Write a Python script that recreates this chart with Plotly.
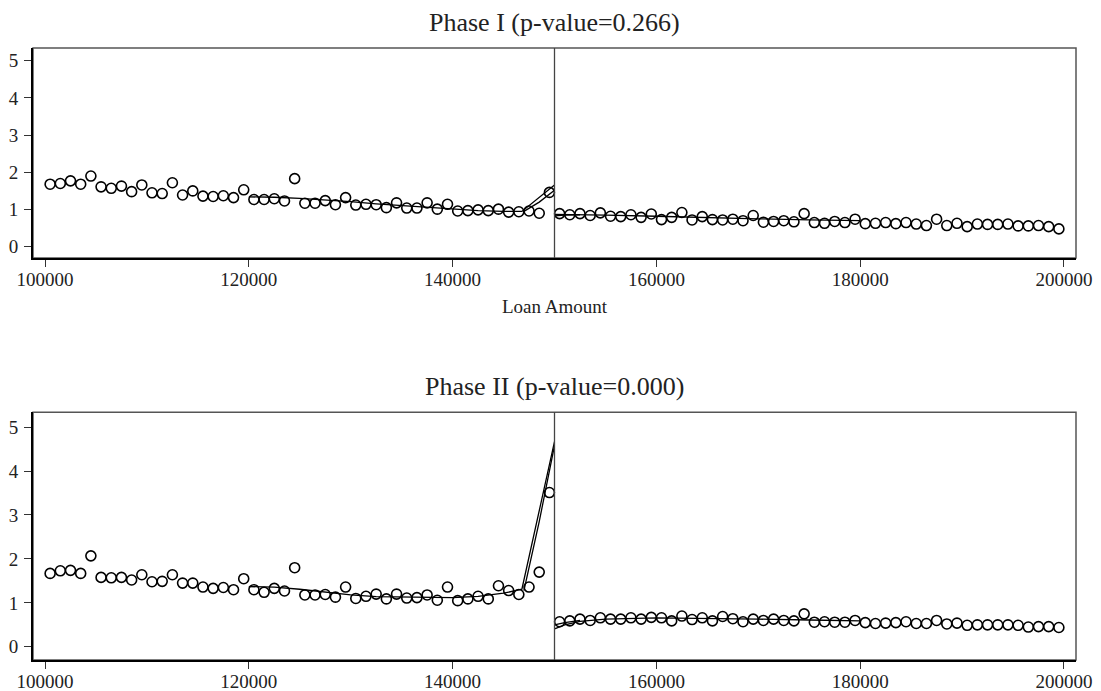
import plotly.graph_objects as go
from plotly.subplots import make_subplots

# bin centres (1000-wide bins of loan amount)
loan_bins = [100500 + 1000 * i for i in range(100)]

phase1_means = [
    1.68, 1.70, 1.77, 1.68, 1.90, 1.61, 1.57, 1.63, 1.48, 1.66,
    1.45, 1.43, 1.72, 1.39, 1.50, 1.36, 1.35, 1.37, 1.32, 1.53,
    1.27, 1.27, 1.29, 1.23, 1.83, 1.17, 1.17, 1.24, 1.13, 1.32,
    1.12, 1.14, 1.13, 1.05, 1.18, 1.04, 1.04, 1.18, 1.01, 1.14,
    0.96, 0.97, 0.99, 0.97, 1.01, 0.93, 0.94, 0.96, 0.90, 1.46,
    0.89, 0.86, 0.89, 0.84, 0.91, 0.82, 0.81, 0.86, 0.79, 0.88,
    0.73, 0.79, 0.92, 0.72, 0.81, 0.73, 0.72, 0.74, 0.70, 0.84,
    0.66, 0.68, 0.70, 0.67, 0.89, 0.65, 0.63, 0.68, 0.65, 0.74,
    0.62, 0.63, 0.65, 0.62, 0.65, 0.61, 0.57, 0.74, 0.57, 0.63,
    0.54, 0.61, 0.60, 0.60, 0.61, 0.56, 0.56, 0.57, 0.54, 0.48,
]

phase2_means = [
    1.67, 1.73, 1.74, 1.67, 2.07, 1.58, 1.57, 1.58, 1.52, 1.64,
    1.48, 1.49, 1.64, 1.45, 1.45, 1.36, 1.33, 1.35, 1.30, 1.55,
    1.30, 1.24, 1.33, 1.27, 1.80, 1.18, 1.18, 1.19, 1.13, 1.36,
    1.10, 1.15, 1.20, 1.09, 1.20, 1.11, 1.12, 1.18, 1.06, 1.36,
    1.05, 1.09, 1.15, 1.09, 1.39, 1.28, 1.19, 1.36, 1.70, 3.51,
    0.57, 0.59, 0.63, 0.60, 0.66, 0.63, 0.63, 0.66, 0.63, 0.67,
    0.66, 0.59, 0.70, 0.62, 0.66, 0.59, 0.69, 0.64, 0.57, 0.63,
    0.60, 0.63, 0.60, 0.59, 0.75, 0.56, 0.57, 0.56, 0.56, 0.60,
    0.55, 0.53, 0.54, 0.55, 0.57, 0.53, 0.53, 0.60, 0.52, 0.54,
    0.49, 0.50, 0.50, 0.50, 0.50, 0.49, 0.45, 0.46, 0.46, 0.44,
]

# local fits, left of the cutoff
fit_left_x = [120000, 122500, 125000, 127500, 130000, 132500, 135000,
              137500, 140000, 142500, 145000, 146800, 150000]
fit1_left_y = [1.34, 1.33, 1.30, 1.26, 1.21, 1.15, 1.10,
               1.05, 1.00, 0.97, 0.95, 0.95, 1.66]
fit2_left_y = [1.37, 1.36, 1.31, 1.24, 1.18, 1.14, 1.13,
               1.12, 1.12, 1.15, 1.22, 1.31, 4.67]
# second (alternative) fit near the cutoff
alt_left_x = [147000, 148500, 150000]
alt1_left_y = [0.95, 1.20, 1.52]
alt2_left_y = [1.28, 2.85, 4.58]

# local fits, right of the cutoff
fit_right_x = [150000, 151000, 152500, 155000, 160000, 165000, 170000, 175000, 180000]
fit1_right_y = [0.87, 0.87, 0.86, 0.85, 0.82, 0.78, 0.75, 0.72, 0.70]
fit2_right_y = [0.41, 0.50, 0.58, 0.63, 0.66, 0.65, 0.63, 0.61, 0.59]
alt_right_x = [150000, 151000, 152500]
alt1_right_y = [0.83, 0.85, 0.86]
alt2_right_y = [0.50, 0.55, 0.60]

cutoff = 150000
x_ticks = [100000, 120000, 140000, 160000, 180000, 200000]
y_ticks = [0, 1, 2, 3, 4, 5]

FONT = "Liberation Serif, Times New Roman, serif"

fig = make_subplots(rows=2, cols=1, vertical_spacing=0.1)

panels = [
    (1, phase1_means, fit1_left_y, alt1_left_y, fit1_right_y, alt1_right_y),
    (2, phase2_means, fit2_left_y, alt2_left_y, fit2_right_y, alt2_right_y),
]
for row, means, fl, al, fr, ar in panels:
    line = dict(color="black", width=1.3)
    fig.add_trace(go.Scatter(x=fit_left_x, y=fl, mode="lines", line=line), row=row, col=1)
    fig.add_trace(go.Scatter(x=alt_left_x, y=al, mode="lines", line=line), row=row, col=1)
    fig.add_trace(go.Scatter(x=fit_right_x, y=fr, mode="lines", line=line), row=row, col=1)
    fig.add_trace(go.Scatter(x=alt_right_x, y=ar, mode="lines", line=line), row=row, col=1)
    fig.add_trace(
        go.Scatter(
            x=loan_bins, y=means, mode="markers",
            marker=dict(symbol="circle-open", size=10, color="black",
                        line=dict(color="black", width=1.6)),
        ),
        row=row, col=1,
    )

axis_common = dict(
    showline=True, linecolor="black", linewidth=2,
    ticks="outside", ticklen=7, tickwidth=1, tickcolor="#333",
    showgrid=False, zeroline=False, automargin=False,
    tickfont=dict(family=FONT, size=19, color="#222"),
)
fig.update_xaxes(range=[98820, 201180], tickvals=x_ticks, tickformat="d",
                 ticklabelstandoff=-4, **axis_common)
fig.update_yaxes(range=[-0.3, 5.34], tickvals=y_ticks, ticklabelstandoff=2, **axis_common)
fig.update_xaxes(title=dict(text="Loan Amount", font=dict(family=FONT, size=19, color="#222"),
                            standoff=11), row=1, col=1)

fig.update_layout(
    yaxis=dict(domain=[0.657, 1.0]),
    yaxis2=dict(domain=[0.0, 0.405]),
    xaxis=dict(anchor="y"),
    xaxis2=dict(anchor="y2"),
)

shapes = []
for xr, yr in [("x", "y"), ("x2", "y2")]:
    shapes.append(dict(type="rect", xref=f"{xr} domain", yref=f"{yr} domain",
                       x0=0, x1=1, y0=0, y1=1, layer="below",
                       line=dict(color="#555", width=1.5)))
    shapes.append(dict(type="line", xref=xr, yref=f"{yr} domain",
                       x0=cutoff, x1=cutoff, y0=0, y1=1,
                       line=dict(color="#444", width=1.3)))

fig.update_layout(
    shapes=shapes,
    showlegend=False,
    plot_bgcolor="white",
    paper_bgcolor="white",
    width=1101,
    height=691,
    margin=dict(t=48, b=31, l=33, r=25),
    annotations=[
        dict(text="Phase I (p-value=0.266)", xref="paper", yref="paper",
             x=0.5, y=1.0, yanchor="middle", yshift=26, showarrow=False,
             font=dict(family=FONT, size=26, color="#222")),
        dict(text="Phase II (p-value=0.000)", xref="paper", yref="paper",
             x=0.5, y=0.405, yanchor="middle", yshift=26, showarrow=False,
             font=dict(family=FONT, size=26, color="#222")),
    ],
)

# the page body has a default 8px margin; drop it so the figure fills the window
fig.write_html("out.html", config={"displayModeBar": False},
               post_script="document.body.style.margin='0';")
